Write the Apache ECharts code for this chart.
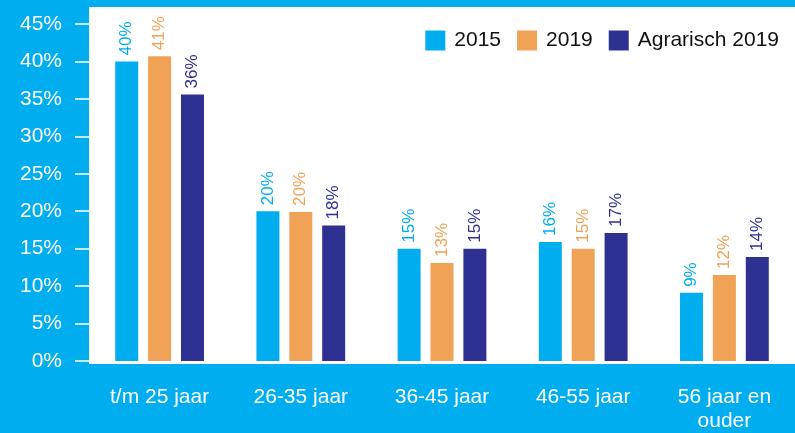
<!DOCTYPE html>
<html>
<head>
<meta charset="utf-8">
<script src="https://cdn.jsdelivr.net/npm/echarts@6/dist/echarts.min.js"></script>
<style>
  html, body { margin: 0; padding: 0; background: #00AEEF; }
  #chart { width: 795px; height: 433px; }
</style>
</head>
<body>
<div id="chart"></div>
<script>
var categories = ['t/m 25 jaar', '26-35 jaar', '36-45 jaar', '46-55 jaar', '56 jaar en\nouder'];
var seriesNames = ['2015', '2019', 'Agrarisch 2019'];
var values2015 = [40.0, 20.0, 15.0, 15.9, 9.1];
var values2019 = [40.7, 19.9, 13.1, 15.0, 11.5];
var valuesAgr = [35.6, 18.1, 15.0, 17.1, 13.9];
var colors = ['#00AEEF', '#F0A257', '#2E3192'];
var font = 'Liberation Sans, Arial, sans-serif';

function makeSeries(name, data, color) {
    return {
        name: name,
        type: 'bar',
        data: data,
        barWidth: 23,
        barGap: '43%',
        itemStyle: { color: color },
        label: {
            show: true,
            position: 'top',
            rotate: 90,
            align: 'left',
            verticalAlign: 'middle',
            distance: 6,
            color: color,
            fontFamily: font,
            fontSize: 17,
            formatter: function (p) { return Math.round(p.value) + '%'; }
        }
    };
}

var myChart = echarts.init(document.getElementById('chart'));
var option = {
    backgroundColor: '#00AEEF',
    animation: false,
    graphic: [{
        type: 'rect',
        z: -10,
        silent: true,
        shape: { x: 89, y: 7, width: 706, height: 357 },
        style: { fill: '#ffffff' }
    }],
    legend: {
        data: seriesNames,
        right: 11,
        top: 25,
        icon: 'rect',
        itemWidth: 20,
        itemHeight: 20,
        itemGap: 16,
        textStyle: { fontFamily: font, fontSize: 21, color: '#111', padding: [0, 0, 0, 4] }
    },
    grid: { left: 89, top: 24, width: 712, height: 340 },
    xAxis: {
        type: 'category',
        data: categories,
        axisLine: { show: false },
        axisTick: { show: false },
        axisLabel: {
            color: '#ffffff',
            fontFamily: font,
            fontSize: 21,
            lineHeight: 24,
            margin: 24,
            interval: 0
        }
    },
    yAxis: {
        type: 'value',
        min: 0,
        max: 45,
        interval: 5,
        axisLine: { show: false },
        axisTick: { show: true, length: 14, lineStyle: { color: '#ffffff', width: 1.5 } },
        splitLine: { show: false },
        axisLabel: {
            color: '#ffffff',
            fontFamily: font,
            fontSize: 21,
            margin: 27,
            formatter: '{value}%'
        }
    },
    series: [
        makeSeries(seriesNames[0], values2015, colors[0]),
        makeSeries(seriesNames[1], values2019, colors[1]),
        makeSeries(seriesNames[2], valuesAgr, colors[2])
    ]
};
myChart.setOption(option);
</script>
</body>
</html>
